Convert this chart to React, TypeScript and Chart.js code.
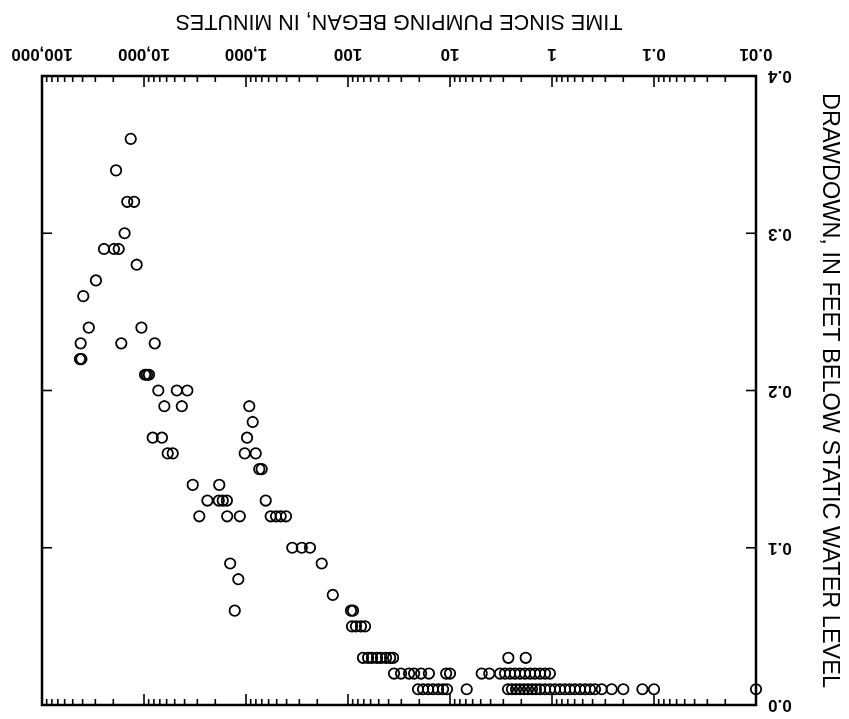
import React, { useEffect, useRef } from 'react';
import { Chart, registerables } from 'chart.js';

Chart.register(...registerables);

// Time since pumping began (minutes) and drawdown (feet) for each observation
const TIME_MIN = [
  13500,
  18800,
  14600, 12500,
  15500,
  24700, 19700, 17700,
  11800,
  29600,
  39400,
  34800, 10600,
  41800, 16700, 7850,
  42500, 41100,
  9770, 9350, 8940,
  7240, 4770, 3760,
  6320, 4260, 929,
  860,
  8220, 6670, 977,
  5860, 5230, 1030, 803,
  741, 702,
  3330, 1830,
  2390, 1850, 1690, 1540, 641,
  2870, 1530, 1150, 573, 508, 457, 405,
  352, 284, 236,
  181, 1430,
  1190,
  141,
  1290, 93.5, 89.3,
  91.4, 83.6, 74.6, 68.1,
  71.3, 63.6, 58.2, 52.0, 47.5, 42.4, 38.7, 36.2, 2.68, 1.81,
  35.4, 30.2, 25.2, 22.5, 19.2, 16.1, 10.9, 10.0, 4.89, 4.12, 3.24, 2.89, 2.58, 2.31, 2.06, 1.84, 1.64, 1.47, 1.31, 1.17, 1.05,
  20.6, 18.4, 16.4, 14.7, 13.1, 11.7, 10.7, 6.86, 2.70, 2.47, 2.25, 2.06, 1.88, 1.72, 1.57, 1.44, 1.31, 1.17, 1.05,
  0.935, 0.835, 0.746, 0.667, 0.596, 0.531, 0.474, 0.424, 0.379, 0.326, 0.260, 0.200, 0.130, 0.100, 0.0100,
];

const DRAWDOWN_FT = [
  0.36,
  0.34,
  0.32, 0.32,
  0.30,
  0.29, 0.29, 0.29,
  0.28,
  0.27,
  0.26,
  0.24, 0.24,
  0.23, 0.23, 0.23,
  0.22, 0.22,
  0.21, 0.21, 0.21,
  0.20, 0.20, 0.20,
  0.19, 0.19, 0.19,
  0.18,
  0.17, 0.17, 0.17,
  0.16, 0.16, 0.16, 0.16,
  0.15, 0.15,
  0.14, 0.14,
  0.13, 0.13, 0.13, 0.13, 0.13,
  0.12, 0.12, 0.12, 0.12, 0.12, 0.12, 0.12,
  0.10, 0.10, 0.10,
  0.09, 0.09,
  0.08,
  0.07,
  0.06, 0.06, 0.06,
  0.05, 0.05, 0.05, 0.05,
  0.03, 0.03, 0.03, 0.03, 0.03, 0.03, 0.03, 0.03, 0.03, 0.03,
  0.02, 0.02, 0.02, 0.02, 0.02, 0.02, 0.02, 0.02, 0.02, 0.02, 0.02, 0.02, 0.02, 0.02, 0.02, 0.02, 0.02, 0.02, 0.02, 0.02, 0.02,
  0.01, 0.01, 0.01, 0.01, 0.01, 0.01, 0.01, 0.01, 0.01, 0.01, 0.01, 0.01, 0.01, 0.01, 0.01, 0.01, 0.01, 0.01, 0.01,
  0.01, 0.01, 0.01, 0.01, 0.01, 0.01, 0.01, 0.01, 0.01, 0.01, 0.01, 0.01, 0.01, 0.01, 0.01,
];

const X_TICK_VALUES = [0.01, 0.1, 1, 10, 100, 1000, 10000, 100000];
const X_TICK_LABELS = ['0.01', '0.1', '1', '10', '100', '1,000', '10,000', '100,000'];
const Y_TICK_VALUES = [0, 0.1, 0.2, 0.3, 0.4];
const Y_TICK_LABELS = ['0.0', '0.1', '0.2', '0.3', '0.4'];
const X_TITLE = 'TIME SINCE PUMPING BEGAN, IN MINUTES';
const Y_TITLE = 'DRAWDOWN, IN FEET BELOW STATIC WATER LEVEL';

const FONT = '"Liberation Sans", Arial, Helvetica, sans-serif';

const framePlugin = {
  id: 'frameTicks',
  beforeDatasetsDraw(chart: any) {
    const { ctx, chartArea: a, scales } = chart;
    const xs = scales.x;
    const ys = scales.y;
    ctx.save();
    ctx.strokeStyle = '#000';
    ctx.lineCap = 'butt';
    ctx.lineWidth = 1.6;
    const line = (x1: number, y1: number, x2: number, y2: number) => {
      ctx.beginPath();
      ctx.moveTo(x1, y1);
      ctx.lineTo(x2, y2);
      ctx.stroke();
    };
    for (let d = -2; d <= 4; d++) {
      for (let m = 1; m <= 9; m++) {
        const v = m * Math.pow(10, d);
        const px = xs.getPixelForValue(v);
        const len = m === 1 ? 11 : 6;
        line(px, a.bottom, px, a.bottom - len);
        line(px, a.top, px, a.top + len);
      }
    }
    Y_TICK_VALUES.forEach((v) => {
      const py = ys.getPixelForValue(v);
      line(a.left, py, a.left + 10, py);
      line(a.right, py, a.right - 10, py);
    });
    ctx.lineWidth = 2.5;
    ctx.strokeRect(a.left, a.top, a.right - a.left, a.bottom - a.top);
    ctx.restore();
  },
};

export default function App() {
  const canvasRef = useRef<HTMLCanvasElement | null>(null);

  useEffect(() => {
    if (!canvasRef.current) return;
    const points = TIME_MIN.map((t, i) => ({ x: t, y: DRAWDOWN_FT[i] }));
    const chart = new Chart(canvasRef.current, {
      type: 'scatter',
      data: {
        datasets: [
          {
            data: points,
            pointStyle: 'circle',
            pointRadius: 5.2,
            pointHoverRadius: 5.2,
            borderWidth: 1.8,
            borderColor: '#000',
            backgroundColor: 'rgba(0,0,0,0)',
            clip: false as any,
          },
        ],
      },
      options: {
        animation: false,
        responsive: false,
        events: [],
        layout: { padding: { left: 0, top: 14, right: 42, bottom: 0 } },
        plugins: {
          legend: { display: false },
          tooltip: { enabled: false },
        },
        scales: {
          x: {
            type: 'logarithmic',
            position: 'bottom',
            min: 0.01,
            max: 100000,
            afterBuildTicks: (s: any) => {
              s.ticks = X_TICK_VALUES.map((v) => ({ value: v }));
            },
            afterFit: (s: any) => {
              s.height = 76;
              s.paddingLeft = 0;
              s.paddingRight = 0;
            },
            grid: { display: false, drawTicks: false },
            border: { display: false },
            ticks: {
              autoSkip: false,
              maxRotation: 0,
              minRotation: 0,
              padding: 12,
              color: '#000',
              font: { family: FONT, size: 17, weight: 'bold' },
              callback: (_v: any, i: number) => X_TICK_LABELS[i],
            },
            title: {
              display: true,
              text: X_TITLE,
              color: '#000',
              font: { family: FONT, size: 21.5 },
              padding: { top: 0, bottom: 8 },
            },
          },
          y: {
            type: 'linear',
            position: 'left',
            min: 0,
            max: 0.4,
            reverse: true,
            afterBuildTicks: (s: any) => {
              s.ticks = Y_TICK_VALUES.map((v) => ({ value: v }));
            },
            afterFit: (s: any) => {
              s.width = 93;
              s.paddingTop = 0;
              s.paddingBottom = 0;
            },
            grid: { display: false, drawTicks: false },
            border: { display: false },
            ticks: {
              padding: 12,
              color: '#000',
              font: { family: FONT, size: 17, weight: 'bold' },
              callback: (_v: any, i: number) => Y_TICK_LABELS[i],
            },
            title: {
              display: true,
              text: Y_TITLE,
              color: '#000',
              font: { family: FONT, size: 23.5 },
              padding: { top: 5, bottom: 0 },
            },
          },
        },
      },
      plugins: [framePlugin],
    } as any);
    return () => chart.destroy();
  }, []);

  return (
    <div
      style={{
        position: 'fixed',
        left: 0,
        top: 0,
        width: 849,
        height: 719,
        background: '#fff',
        transform: 'rotate(180deg)',
        transformOrigin: '50% 50%',
      }}
    >
      <canvas ref={canvasRef} width={849} height={719} style={{ display: 'block', width: 849, height: 719 }} />
    </div>
  );
}
